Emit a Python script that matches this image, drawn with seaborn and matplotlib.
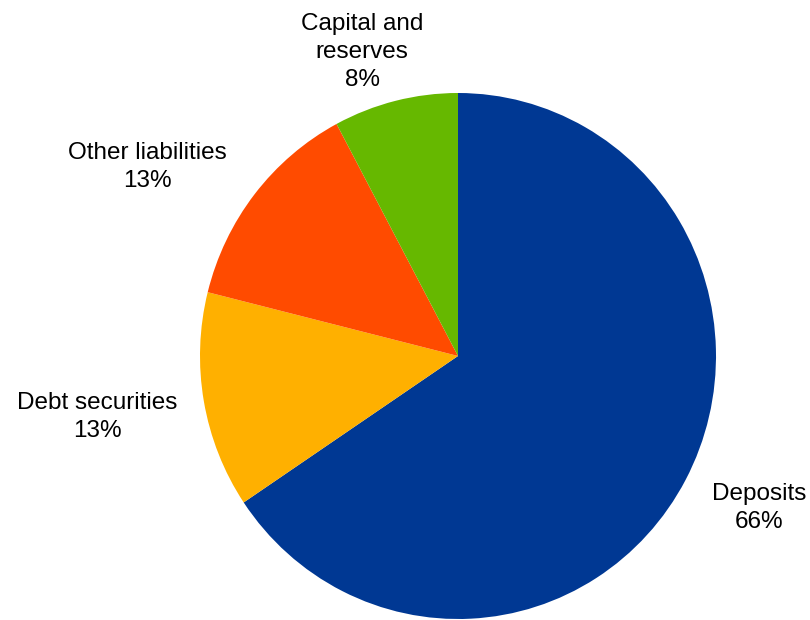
import matplotlib
matplotlib.use("Agg")
import matplotlib.pyplot as plt
import seaborn as sns

sns.set_theme(style="white")
plt.rcParams['font.family'] = ['Liberation Sans', 'DejaVu Sans']

categories = ["Deposits", "Debt securities", "Other liabilities", "Capital and\nreserves"]
values = [65.6, 13.3, 13.3, 7.8]
colors = ["#003893", "#FFB000", "#FF4B00", "#66B800"]
label_pos = [(1.167, -0.578), (-1.399, -0.232), (-1.205, 0.719), (-0.372, 1.156)]

fig = plt.figure(figsize=(8.1, 6.2), dpi=100)
ax = fig.add_axes([0, 0, 1, 1])
ax.pie(values, colors=colors, startangle=90, counterclock=False,
       radius=1.0, wedgeprops=dict(linewidth=0))
ax.set_aspect('auto')
ax.set_xlim(-458 / 258, 352 / 258)
ax.set_ylim((356 - 620) / 263, 356 / 263)
ax.axis('off')

for cat, val, (x, y) in zip(categories, values, label_pos):
    ax.text(x, y, f"{cat}\n{round(val):.0f}%", ha='center', va='center',
            fontsize=17.5, color='black', linespacing=1.38)

fig.savefig("out.png", dpi=100)
